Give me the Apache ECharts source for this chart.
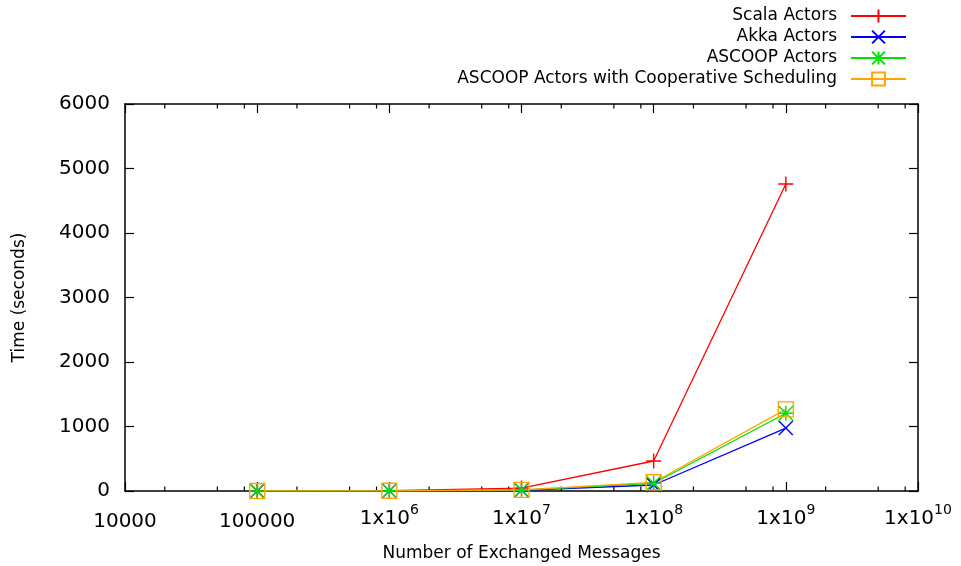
<!DOCTYPE html>
<html>
<head>
<meta charset="utf-8">
<script src="https://cdn.jsdelivr.net/npm/echarts@6/dist/echarts.min.js"></script>
<style>
html,body{margin:0;padding:0;background:#fff;}
#chart{width:961px;height:566px;}
</style>
</head>
<body>
<div id="chart"></div>
<script>
// ---- data ----
const messages = [1e5, 1e6, 1e7, 1e8, 1e9];
const scalaActors = [2, 6, 45, 465, 4760];
const akkaActors = [0.5, 2, 12, 93, 975];
const ascoopActors = [1, 3, 15, 120, 1205];
const ascoopCoop = [1, 3, 18, 135, 1265];
const seriesNames = ['Scala Actors', 'Akka Actors', 'ASCOOP Actors', 'ASCOOP Actors with Cooperative Scheduling'];
const minorTickValues = [2e4, 5e4, 8e4, 2e5, 5e5, 8e5, 2e6, 5e6, 8e6, 2e7, 5e7, 8e7, 2e8, 5e8, 8e8, 2e9, 5e9, 8e9];
const yTicks = [0, 1000, 2000, 3000, 4000, 5000, 6000];

const FONT = 'DejaVu Sans';
const pairs = (xs, ys) => xs.map((x, i) => [x, ys[i]]);

const SYM_PLUS = 'path://M0,5L10,5M5,0L5,10';
const SYM_CROSS = 'path://M0,0L10,10M10,0L0,10';
const SYM_STAR = 'path://M0,5L10,5M5,0L5,10M0,0L10,10M10,0L0,10';
const SYM_SQUARE = 'path://M0,0L10,0L10,10L0,10Z';

function mkSeries(name, data, color, symbol, size) {
  return {
    name: name,
    type: 'line',
    data: pairs(messages, data),
    symbol: symbol,
    symbolSize: size,
    showAllSymbol: true,
    color: color,
    lineStyle: { color: color, width: 1.3 },
    itemStyle: { color: 'rgba(0,0,0,0)', borderColor: color, borderWidth: 1.4 },
    emphasis: { disabled: true },
    animation: false,
    z: 3
  };
}

function xLabel(v) {
  const e = Math.round(Math.log10(v));
  if (e < 6) return '{p|' + String(Math.round(v)) + '}';
  return '{m|1x10}{s|' + e + '}';
}

const chart = echarts.init(document.getElementById('chart'), null, { renderer: 'canvas' });

const axisLineStyle = { color: '#000', width: 1.5 };
const tickStyle = { color: '#000', width: 1.2 };

chart.setOption({
  animation: false,
  backgroundColor: '#fff',
  textStyle: { fontFamily: FONT },
  grid: { left: 125, right: 43, top: 104, bottom: 75, containLabel: false, outerBoundsMode: 'none' },
  legend: {
    orient: 'vertical',
    align: 'right',
    right: 54,
    top: 7.5,
    padding: 0,
    itemGap: 4,
    itemWidth: 55,
    itemHeight: 16,
    data: seriesNames,
    textStyle: { fontFamily: FONT, fontSize: 17, color: '#000', lineHeight: 17, padding: [0, 9, 0, 0] },
    selectedMode: false
  },
  xAxis: [{
    type: 'log',
    logBase: 10,
    min: 1e4,
    max: 1e10,
    name: 'Number of Exchanged Messages',
    nameLocation: 'middle',
    nameGap: 54,
    nameTextStyle: { fontFamily: FONT, fontSize: 17, color: '#000' },
    axisLine: { show: true, onZero: false, lineStyle: axisLineStyle },
    axisTick: { show: true, inside: true, length: 9, lineStyle: tickStyle },
    splitLine: { show: false },
    axisLabel: {
      margin: 12,
      color: '#000',
      fontFamily: FONT,
      fontSize: 20,
      formatter: xLabel,
      rich: {
        p: { fontFamily: FONT, fontSize: 20, color: '#000', lineHeight: 26, padding: [12, 0, 0, 0] },
        m: { fontFamily: FONT, fontSize: 20, color: '#000', verticalAlign: 'bottom', lineHeight: 26 },
        s: { fontFamily: FONT, fontSize: 14, color: '#000', verticalAlign: 'top', lineHeight: 26, padding: [0, 0, 12, 0] }
      }
    }
  }, {
    type: 'log',
    logBase: 10,
    min: 1e4,
    max: 1e10,
    position: 'top',
    axisLine: { show: true, onZero: false, lineStyle: axisLineStyle },
    axisTick: { show: true, inside: true, length: 9, lineStyle: tickStyle },
    axisLabel: { show: false },
    splitLine: { show: false }
  }],
  yAxis: [{
    type: 'value',
    min: yTicks[0],
    max: yTicks[yTicks.length - 1],
    interval: 1000,
    name: 'Time (seconds)',
    nameLocation: 'middle',
    nameGap: 97,
    nameRotate: 90,
    nameTextStyle: { fontFamily: FONT, fontSize: 17, color: '#000' },
    axisLine: { show: true, onZero: false, lineStyle: axisLineStyle },
    axisTick: { show: true, inside: true, length: 9, lineStyle: tickStyle },
    splitLine: { show: false },
    axisLabel: { margin: 15, color: '#000', fontFamily: FONT, fontSize: 20, formatter: v => String(v) }
  }, {
    type: 'value',
    min: yTicks[0],
    max: yTicks[yTicks.length - 1],
    interval: 1000,
    position: 'right',
    axisLine: { show: true, onZero: false, lineStyle: axisLineStyle },
    axisTick: { show: true, inside: true, length: 9, lineStyle: tickStyle },
    axisLabel: { show: false },
    splitLine: { show: false }
  }],
  series: [
    {
      name: 'minorTicks',
      type: 'custom',
      silent: true,
      animation: false,
      z: 1,
      data: minorTickValues.map(v => [v, 0]),
      renderItem: function (params, api) {
        const p = api.coord([api.value(0), 0]);
        const cs = params.coordSys;
        const top = cs.y, bottom = cs.y + cs.height;
        const st = { stroke: '#000', lineWidth: 1.2 };
        return {
          type: 'group',
          children: [
            { type: 'line', shape: { x1: p[0], y1: bottom, x2: p[0], y2: bottom - 4.5 }, style: st },
            { type: 'line', shape: { x1: p[0], y1: top, x2: p[0], y2: top + 4.5 }, style: st }
          ]
        };
      }
    },
    mkSeries(seriesNames[0], scalaActors, '#ff0000', SYM_PLUS, 15),
    mkSeries(seriesNames[1], akkaActors, '#0000ff', SYM_CROSS, 14),
    mkSeries(seriesNames[2], ascoopActors, '#00e000', SYM_STAR, 15),
    mkSeries(seriesNames[3], ascoopCoop, '#ffa500', SYM_SQUARE, 15)
  ]
});
</script>
</body>
</html>
